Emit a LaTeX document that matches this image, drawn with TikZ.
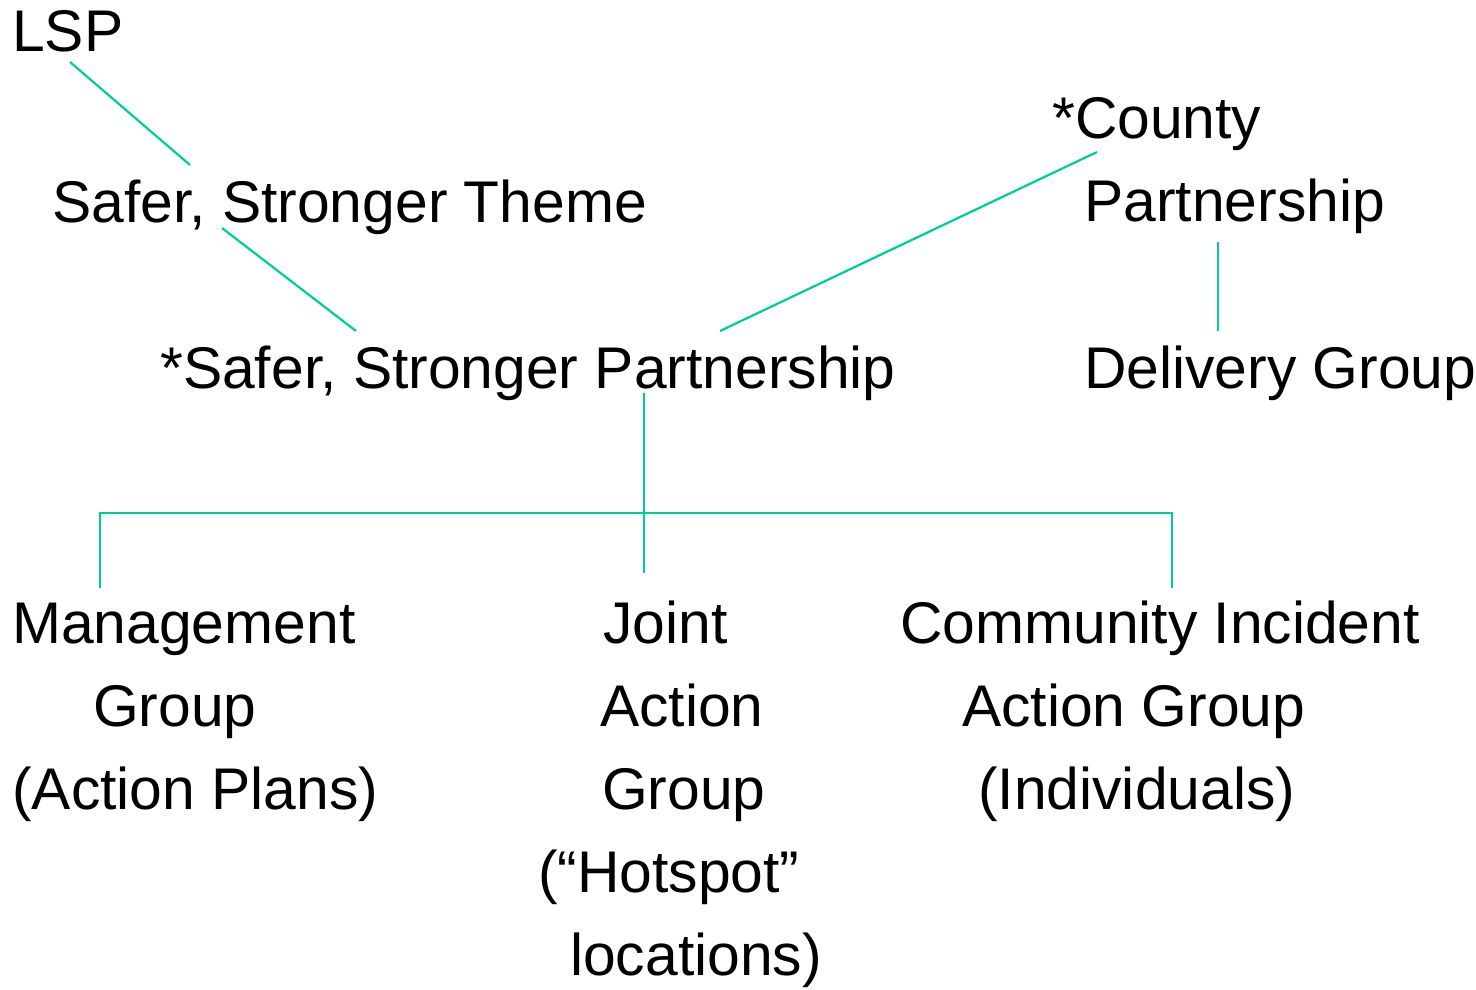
\documentclass[tikz,border=0pt]{standalone}
\usepackage{fontspec}
\setmainfont{Liberation Sans}
\definecolor{linkgreen}{RGB}{0,204,153}

\begin{document}
\begin{tikzpicture}[x=1pt, y=-1pt,
		entry/.style={anchor=base west, inner sep=0pt, align=left,
			font=\fontsize{58.8}{83}\selectfont},
		connector/.style={draw=linkgreen, line width=2.2pt}
		]
		\useasboundingbox (0,0) rectangle (1476,990);
		\node [entry] (lsp) at (12,52) {LSP};
		\node [entry] (theme) at (52,222) {Safer, Stronger Theme};
		\node [entry] (ssp) at (160,388) {*Safer, Stronger Partnership};
		\node [entry] (county) at (1052,221) {*County\\\hspace*{32pt}Partnership};
		\node [entry] (delivery) at (1084,388) {Delivery Group};
		\node [entry] (management) at (12,809)
			{Management\\\hspace*{81pt}Group\\(Action Plans)};
		\node [entry] (joint) at (538,975)
			{\hspace*{65pt}Joint\\\hspace*{62pt}Action\\\hspace*{64pt}Group\\(“Hotspot”\\\hspace*{32pt}locations)};
		\node [entry] (incident) at (900,809)
			{Community Incident\\\hspace*{62pt}Action Group\\\hspace*{78pt}(Individuals)};
		\coordinate (lsp-end) at (70,62);
		\coordinate (theme-top) at (190,165);
		\coordinate (theme-end) at (222,228);
		\coordinate (ssp-left) at (356,331);
		\coordinate (ssp-right) at (720,331);
		\coordinate (county-end) at (1097,152);
		\coordinate (county-end2) at (1218,242);
		\coordinate (delivery-top) at (1218,331);
		\coordinate (ssp-bottom) at (644,393);
		\coordinate (joint-top) at (644,573);
		\coordinate (bus-left) at (100,513);
		\coordinate (bus-right) at (1172,513);
		\coordinate (management-top) at (100,588);
		\coordinate (incident-top) at (1172,588);
		\draw [connector] (lsp-end) -- (theme-top);
		\draw [connector] (theme-end) -- (ssp-left);
		\draw [connector] (county-end) -- (ssp-right);
		\draw [connector] (county-end2) -- (delivery-top);
		\draw [connector] (ssp-bottom) -- (joint-top);
		\draw [connector] (management-top) -- (bus-left) -- (bus-right) -- (incident-top);
	\end{tikzpicture}
\end{document}
